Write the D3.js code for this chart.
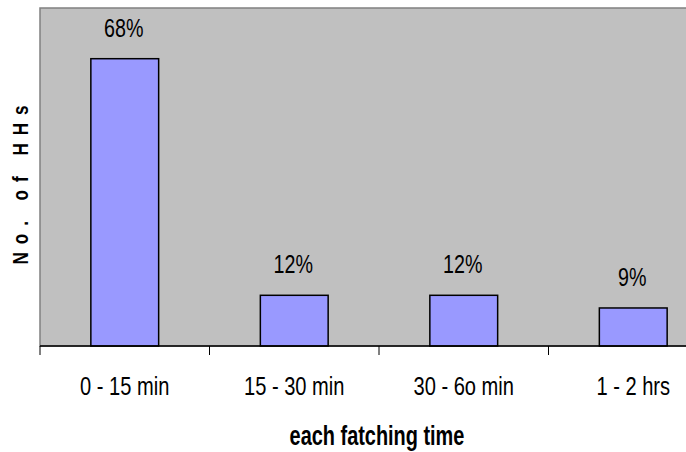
<!DOCTYPE html>
<html>
<head>
<meta charset="utf-8">
<script src="https://cdn.jsdelivr.net/npm/d3@7"></script>
<style>
  body { margin: 0; background: #fff; }
  text { font-family: "Liberation Sans", Arial, sans-serif; fill: #000; }
</style>
</head>
<body>
<div id="chart"></div>
<script>
// --- data ---
const categories = ["0 - 15 min", "15 - 30 min", "30 - 6o min", "1 - 2 hrs"];
const shares = [68, 12, 12, 9];
const shareLabels = ["68%", "12%", "12%", "9%"];

const W = 686, H = 452;
// plot runs a bit past the right edge, like the source
const margin = { top: 8, left: 40, plotRight: 718, bottom: 346 };
// source text is a narrow face; squeeze the regular one
const narrow = 0.82;

const svg = d3.select("#chart").append("svg")
  .attr("width", W)
  .attr("height", H);

const x = d3.scaleBand()
  .domain(categories)
  .range([margin.left, margin.plotRight])
  .paddingInner(0.6)
  .paddingOuter(0.3);

const y = d3.scaleLinear()
  .domain([0, 80])
  .range([margin.bottom, margin.top]);

// plot background
svg.append("rect")
  .attr("x", margin.left)
  .attr("y", margin.top)
  .attr("width", margin.plotRight - margin.left)
  .attr("height", margin.bottom - margin.top)
  .attr("fill", "#c0c0c0")
  .attr("stroke", "#808080")
  .attr("stroke-width", 1.5);

// bars
const data = categories.map((c, i) => ({ cat: c, v: shares[i], lab: shareLabels[i] }));

svg.append("g").selectAll("rect")
  .data(data)
  .enter().append("rect")
  .attr("x", d => x(d.cat))
  .attr("y", d => y(d.v))
  .attr("width", x.bandwidth())
  .attr("height", d => y(0) - y(d.v))
  .attr("fill", "#9999ff")
  .attr("stroke", "#000")
  .attr("stroke-width", 1.5);

// value labels
svg.append("g").selectAll("g")
  .data(data)
  .enter().append("g")
  .attr("transform", d => `translate(${x(d.cat) + x.bandwidth() / 2 - 1}, ${y(d.v) - 22})`)
  .append("text")
  .attr("transform", `scale(${narrow}, 1.1)`)
  .attr("text-anchor", "middle")
  .style("font-size", "24px")
  .text(d => d.lab);

// x axis: labels centred, ticks on category boundaries
const xAxis = d3.axisBottom(x).tickSize(0).tickPadding(0);
const gx = svg.append("g")
  .attr("transform", `translate(0, ${margin.bottom})`)
  .call(xAxis);
gx.select(".domain").remove();
gx.selectAll("text")
  .attr("dy", null)
  .attr("y", 47)
  .attr("transform", `scale(${narrow}, 1.04)`)
  .style("font-size", "24.5px")
  .style("font-family", null);

const gap = x.step() - x.bandwidth();
const bounds = categories.map(c => x(c) - gap / 2).concat([margin.plotRight]);

svg.append("line")
  .attr("x1", margin.left).attr("x2", margin.plotRight)
  .attr("y1", margin.bottom).attr("y2", margin.bottom)
  .attr("stroke", "#000")
  .attr("stroke-width", 1.5);

svg.append("g").selectAll("line")
  .data(bounds)
  .enter().append("line")
  .attr("x1", d => d).attr("x2", d => d)
  .attr("y1", margin.bottom).attr("y2", margin.bottom + 9)
  .attr("stroke", "#000")
  .attr("stroke-width", 1);

// axis titles
svg.append("g")
  .attr("transform", `translate(${(margin.left + margin.plotRight) / 2 - 2}, 445)`)
  .append("text")
  .attr("transform", `scale(0.83, 1.12)`)
  .attr("text-anchor", "middle")
  .style("font-size", "24px")
  .style("font-weight", "bold")
  .text("each fatching time");

svg.append("g")
  .attr("transform", `translate(28, ${(margin.top + margin.bottom) / 2 + 4}) rotate(-90)`)
  .append("text")
  .attr("transform", "scale(0.78, 1)")
  .attr("text-anchor", "middle")
  .style("font-size", "22px")
  .style("font-weight", "bold")
  .style("letter-spacing", "10.2px")
  .text("No. of HHs");
</script>
</body>
</html>
